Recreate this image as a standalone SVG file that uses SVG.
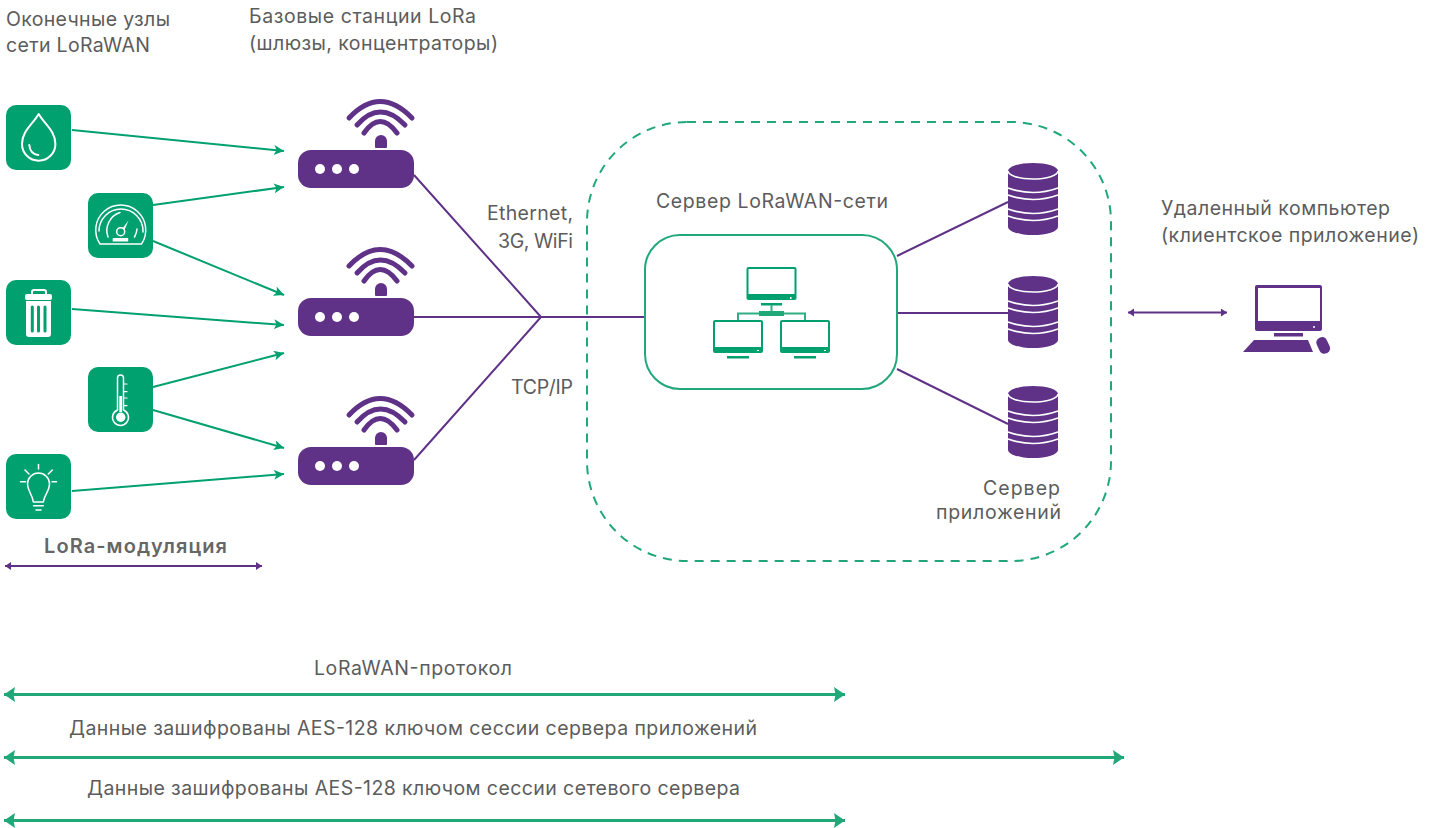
<svg xmlns="http://www.w3.org/2000/svg" xmlns:xlink="http://www.w3.org/1999/xlink" width="1437" height="828" viewBox="0 0 1437 828">
<style>
text{font-family:"Inter","Noto Sans","Liberation Sans",sans-serif;font-size:19.5px;fill:#5c5c5c}
.b{font-weight:600;fill:#666;font-size:20px}
.tile{fill:#00a06f}
.ic{fill:none;stroke:#fff;stroke-width:2;stroke-linecap:round;stroke-linejoin:round}
.th{stroke-width:1.500}
.icf{fill:#fff}
.g{fill:none;stroke:#00a06f;stroke-width:2}
.p{fill:none;stroke:#5f3187;stroke-width:2}
.pf{fill:#5f3187}
.gf{fill:#00a06f}
.wifi{fill:none;stroke:#5f3187;stroke-width:5;stroke-linecap:round}
.w{fill:none;stroke:#fff;stroke-width:1.6}
</style>
<defs>
<marker id="ag" markerUnits="userSpaceOnUse" markerWidth="12" markerHeight="12" refX="10" refY="5" orient="auto"><path d="M0 0L10 5L0 10L2.500 5Z" fill="#00a06f"/></marker>
<marker id="ap" markerUnits="userSpaceOnUse" markerWidth="8" markerHeight="10" refX="6" refY="4" orient="auto-start-reverse"><path d="M0 0L6 4L0 8Z" fill="#5f3187"/></marker>
<marker id="ab" markerUnits="userSpaceOnUse" markerWidth="12" markerHeight="16" refX="11" refY="7.500" orient="auto-start-reverse"><path d="M0 0L11 7.500L0 15L1.500 7.500Z" fill="#20a878"/></marker>
<g id="router">
<rect x="298" y="150" width="116" height="38" rx="13" class="pf"/>
<circle cx="320" cy="169" r="5" fill="#fff"/><circle cx="337" cy="169" r="5" fill="#fff"/><circle cx="354" cy="169" r="5" fill="#fff"/>
<path d="M375 147V141a6 6 0 0 1 12 0V147a1 1 0 0 1-1 1H376a1 1 0 0 1-1-1Z" class="pf"/>
<path class="wifi" d="M349 118Q380 85 412 118"/>
<path class="wifi" d="M357 125Q380 99 405 125"/>
<path class="wifi" d="M364 133Q380 110 397 133"/>
</g>
<g id="db">
<path class="pf" d="M1008 171A25 8 0 0 1 1058 171V227A25 8 0 0 1 1008 227Z"/>
<path class="w" d="M1008 171A25 8 0 0 0 1058 171"/>
<path class="w" d="M1008 188Q1033 197 1058 188M1008 195Q1033 204 1058 195M1008 209Q1033 218 1058 209M1008 216Q1033 225 1058 216"/>
</g>
<g id="mon">
<path fill="#00a06f" d="M713 322a2 2 0 0 1 2-2h46a2 2 0 0 1 2 2v29a2 2 0 0 1-2 2h-46a2 2 0 0 1-2-2ZM715 322v25h46v-25Z" fill-rule="evenodd"/>
<rect x="757" y="350" width="2" height="1" fill="#fff"/>
<rect x="727" y="356" width="22" height="2.500" fill="#00a06f"/>
</g>
</defs>

<g id="connectors">
<path class="g" marker-end="url(#ag)" d="M72 130L284 151"/>
<path class="g" marker-end="url(#ag)" d="M153 205L284 187"/>
<path class="g" marker-end="url(#ag)" d="M153 241L284 295"/>
<path class="g" marker-end="url(#ag)" d="M72 309L284 325"/>
<path class="g" marker-end="url(#ag)" d="M153 387L284 353"/>
<path class="g" marker-end="url(#ag)" d="M153 410L284 448"/>
<path class="g" marker-end="url(#ag)" d="M72 491L284 474"/>
<path class="p" d="M414 175L541 317L414 460M414 317H645"/>
<path class="p" d="M897 256L1008 202M897 313H1008M897 369L1008 424"/>
<path class="p" marker-start="url(#ap)" marker-end="url(#ap)" d="M1128 312.500H1227"/>
<path class="p" marker-start="url(#ap)" marker-end="url(#ap)" d="M5 566H262"/>
<path fill="none" stroke="#20a878" stroke-width="3" marker-start="url(#ab)" marker-end="url(#ab)" d="M4 694.500H845"/>
<path fill="none" stroke="#20a878" stroke-width="3" marker-start="url(#ab)" marker-end="url(#ab)" d="M4 757.500H1124"/>
<path fill="none" stroke="#20a878" stroke-width="3" marker-start="url(#ab)" marker-end="url(#ab)" d="M4 820.500H845"/>
</g>

<g id="cloud"><rect x="587" y="122" width="524" height="439" rx="100" fill="none" stroke="#20a878" stroke-width="2" stroke-dasharray="9 7"/></g>

<g id="node-water"><rect class="tile" x="6" y="105" width="65" height="65" rx="10"/>
<path class="ic" d="M38.700 114C33 124 22 131 22 144A16.700 16.700 0 0 0 55.400 144C55.400 131 44.400 124 38.700 114Z"/><path class="ic" d="M29.300 145Q30 154 38.300 155"/></g>

<g id="node-gauge"><rect class="tile" x="88" y="193" width="65" height="65" rx="10"/>
<path class="ic th" d="M100 244A25 25 0 1 1 141.500 244H100"/>
<path class="ic th" d="M99 231A22 22 0 0 1 143 231V232"/>
<path class="ic th" d="M108 237A19 19 0 0 1 120 212.500M137 229A19 19 0 0 1 134.500 237"/>
<circle class="ic th" cx="120.700" cy="231.700" r="4"/><path class="icf" d="M122.500 228.500L128.500 220.500L124.500 230Z"/>
<rect class="icf" x="112.700" y="238" width="15.500" height="3.500"/></g>

<g id="node-trash"><rect class="tile" x="6" y="280" width="65" height="65" rx="10"/>
<path class="ic" d="M32 295V292a2 2 0 0 1 2-2H44a2 2 0 0 1 2 2V295"/>
<rect class="icf" x="25" y="294" width="27" height="6" rx="2"/>
<path class="icf" d="M26 301H51V334a3 3 0 0 1-3 3H29a3 3 0 0 1-3-3Z"/>
<path d="M32.300 307V331M38.500 307V331M45 307V331" stroke="#00a06f" stroke-width="3" stroke-linecap="round" fill="none"/></g>

<g id="node-thermo"><rect class="tile" x="88" y="367" width="65" height="65" rx="10"/>
<path class="ic th" d="M117.500 410V378a3 3 0 0 1 6 0V410A8 8 0 1 1 117.500 410Z"/>
<rect class="icf" x="119.300" y="396" width="2.800" height="16"/><circle class="icf" cx="120.700" cy="417.300" r="4.700"/>
<path class="ic" style="stroke-width:1.200" d="M124 384H127M124 391.700H127M124 398H127M124 405.700H127"/></g>

<g id="node-bulb"><rect class="tile" x="6" y="454" width="65" height="65" rx="10"/>
<path class="ic th" d="M33.300 502C32.300 494 27.500 491 27.500 484A11 11 0 0 1 49.500 484C49.500 491 44.700 494 43.300 502Z"/>
<path class="ic th" d="M33.500 505.700H43.300M36 510H41M38.500 464.500V469M20.500 481.700H25.500M52 481.700H56.500M25 470L29 474M52.300 470L48.300 474"/></g>

<g id="gw1"><use xlink:href="#router" href="#router"/></g>
<g id="gw2"><use xlink:href="#router" href="#router" y="148"/></g>
<g id="gw3"><use xlink:href="#router" href="#router" y="297"/></g>

<g id="server"><rect x="645" y="235" width="252" height="154" rx="35" fill="#fff" stroke="#20a878" stroke-width="2"/>
<path fill="#00a06f" fill-rule="evenodd" d="M746.500 269a2 2 0 0 1 2-2h46a2 2 0 0 1 2 2v29a2 2 0 0 1-2 2h-46a2 2 0 0 1-2-2ZM748.500 269v25h46v-25Z"/>
<rect x="790" y="297" width="1.500" height="2" fill="#fff"/>
<rect x="761" y="303" width="21" height="2.500" fill="#00a06f"/>
<path d="M771.500 305V312M738 320V313.500H805V320" fill="none" stroke="#30ad82" stroke-width="2"/>
<rect x="759" y="311" width="25" height="5" fill="#1fa878"/>
<use xlink:href="#mon" href="#mon"/><use xlink:href="#mon" href="#mon" x="67"/></g>

<g id="db1"><use xlink:href="#db" href="#db"/></g>
<g id="db2"><use xlink:href="#db" href="#db" y="113"/></g>
<g id="db3"><use xlink:href="#db" href="#db" y="223"/></g>

<g id="pc"><path class="pf" fill-rule="evenodd" d="M1255 287a2 2 0 0 1 2-2h63a2 2 0 0 1 2 2v42a2 2 0 0 1-2 2h-63a2 2 0 0 1-2-2ZM1258 288v33h62v-33Z"/>
<circle cx="1314" cy="327" r="1" fill="#fff"/>
<rect class="pf" x="1274" y="333" width="29" height="3.500"/>
<path class="pf" d="M1254 340H1308L1313 352H1243Z"/>
<rect class="pf" x="1317.500" y="337" width="11" height="17" rx="5" transform="rotate(-25 1323 345)"/></g>

<g id="labels">
<text x="6" y="26" textLength="164" lengthAdjust="spacing">Оконечные узлы</text>
<text x="6" y="52" textLength="144" lengthAdjust="spacing">сети LoRaWAN</text>
<text x="249" y="23" textLength="227" lengthAdjust="spacing">Базовые станции LoRa</text>
<text x="249" y="50" textLength="249" lengthAdjust="spacing">(шлюзы, концентраторы)</text>
<text x="487" y="220" textLength="86" lengthAdjust="spacing">Ethernet,</text>
<text x="498" y="248" textLength="75" lengthAdjust="spacing">3G, WiFi</text>
<text x="511" y="394" textLength="62" lengthAdjust="spacing">TCP/IP</text>
<text x="656" y="208" textLength="232" lengthAdjust="spacing">Сервер LoRaWAN-сети</text>
<text x="983" y="495" textLength="77" lengthAdjust="spacing">Сервер</text>
<text x="936" y="519" textLength="125" lengthAdjust="spacing">приложений</text>
<text x="1161" y="215" textLength="229" lengthAdjust="spacing">Удаленный компьютер</text>
<text x="1161" y="242" textLength="258" lengthAdjust="spacing">(клиентское приложение)</text>
<text class="b" x="44" y="553" textLength="183" lengthAdjust="spacing">LoRa-модуляция</text>
<text x="314" y="675" textLength="198" lengthAdjust="spacing">LoRaWAN-протокол</text>
<text x="69" y="735" textLength="688" lengthAdjust="spacing">Данные зашифрованы AES-128 ключом сессии сервера приложений</text>
<text x="87" y="795" textLength="653" lengthAdjust="spacing">Данные зашифрованы AES-128 ключом сессии сетевого сервера</text>
</g>
</svg>
